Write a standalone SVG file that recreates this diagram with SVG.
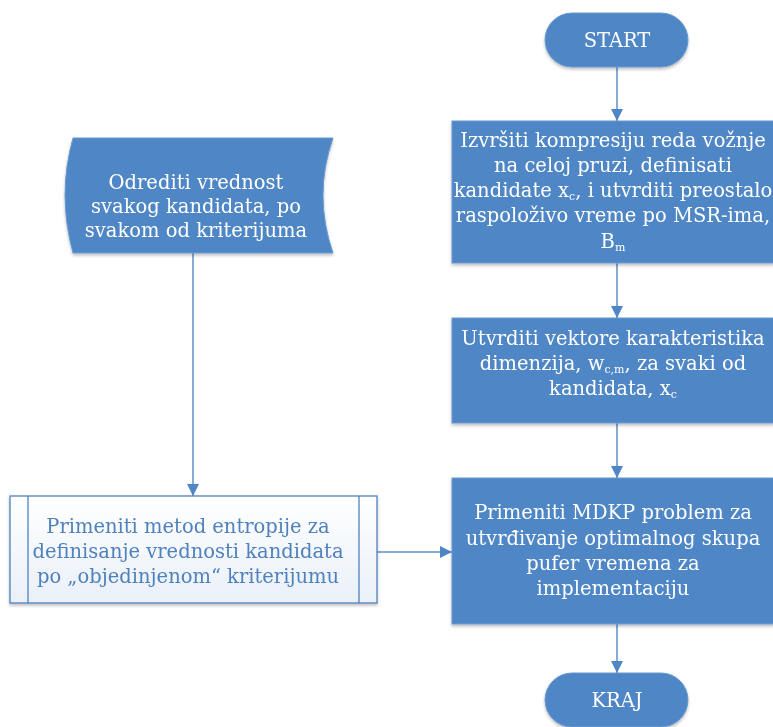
<svg xmlns="http://www.w3.org/2000/svg" width="773" height="727" viewBox="0 0 773 727">
<defs>
<style>
.blue{fill:#4f87c6;stroke:#6a9ad0;stroke-width:1}
.wt{font-family:"DejaVu Serif","Liberation Serif",serif;font-size:19.5px;fill:#ffffff;text-anchor:middle}
.bt{font-family:"DejaVu Serif","Liberation Serif",serif;font-size:19.5px;fill:#4f81bd;text-anchor:middle}
.conn{stroke:#5b8fc9;stroke-width:1.5;fill:none;marker-end:url(#ah)}
.sub{font-size:11px}
</style>
<marker id="ah" viewBox="0 0 10 10" refX="10" refY="5" markerWidth="12" markerHeight="12" markerUnits="userSpaceOnUse" orient="auto">
<path d="M0,0 L10,5 L0,10 Z" fill="#4f87c6"/>
</marker>
<linearGradient id="pg" x1="0" y1="0" x2="0" y2="1">
<stop offset="0" stop-color="#ffffff"/>
<stop offset="1" stop-color="#e9f0f8"/>
</linearGradient>
<filter id="sh" x="-10%" y="-10%" width="120%" height="130%">
<feDropShadow dx="0" dy="2" stdDeviation="1.5" flood-color="#000" flood-opacity="0.25"/>
</filter>
</defs>
<rect width="773" height="727" fill="#ffffff"/>
<g id="connectors">
<line class="conn" x1="617" y1="67" x2="617" y2="121"/>
<line class="conn" x1="617" y1="263" x2="617" y2="318"/>
<line class="conn" x1="617" y1="423" x2="617" y2="478"/>
<line class="conn" x1="617" y1="624" x2="617" y2="673"/>
<line class="conn" x1="193" y1="253" x2="193" y2="496"/>
<line class="conn" x1="377" y1="552" x2="452" y2="552"/>
</g>
<g id="start" filter="url(#sh)">
<rect class="blue" x="545" y="13" width="143" height="54" rx="27"/>
<text class="wt" x="617" y="47">START</text>
</g>
<g id="step1" filter="url(#sh)">
<rect class="blue" x="452" y="121" width="322" height="142"/>
<text class="wt" x="613" y="147">Izvršiti kompresiju reda vožnje</text>
<text class="wt" x="613" y="172">na celoj pruzi, definisati</text>
<text class="wt" x="613" y="197">kandidate x<tspan class="sub" dy="3">c</tspan><tspan dy="-3">, i utvrditi preostalo</tspan></text>
<text class="wt" x="613" y="222">raspoloživo vreme po MSR-ima,</text>
<text class="wt" x="613" y="248">B<tspan class="sub" dy="3">m</tspan></text>
</g>
<g id="step2" filter="url(#sh)">
<rect class="blue" x="452" y="318" width="322" height="105"/>
<text class="wt" x="613" y="345">Utvrditi vektore karakteristika</text>
<text class="wt" x="613" y="370">dimenzija, w<tspan class="sub" dy="3">c,m</tspan><tspan dy="-3">, za svaki od</tspan></text>
<text class="wt" x="613" y="395">kandidata, x<tspan class="sub" dy="3">c</tspan></text>
</g>
<g id="step3" filter="url(#sh)">
<rect class="blue" x="452" y="478" width="322" height="146"/>
<text class="wt" x="613" y="519">Primeniti MDKP problem za</text>
<text class="wt" x="613" y="545">utvrđivanje optimalnog skupa</text>
<text class="wt" x="613" y="570">pufer vremena za</text>
<text class="wt" x="613" y="595">implementaciju</text>
</g>
<g id="kraj" filter="url(#sh)">
<rect class="blue" x="545" y="673" width="143" height="54" rx="27"/>
<text class="wt" x="617" y="707">KRAJ</text>
</g>
<g id="data" filter="url(#sh)">
<path class="blue" d="M73,138 L333,138 Q313,195 333,253 L73,253 Q57,195 73,138 Z"/>
<text class="wt" x="196" y="189">Odrediti vrednost</text>
<text class="wt" x="196" y="213">svakog kandidata, po</text>
<text class="wt" x="196" y="237">svakom od kriterijuma</text>
</g>
<g id="entropy" filter="url(#sh)">
<rect x="10" y="496" width="367" height="107" fill="url(#pg)" stroke="#4f81bd" stroke-width="1.3"/>
<line x1="28" y1="496" x2="28" y2="603" stroke="#4f81bd" stroke-width="1.3"/>
<line x1="359" y1="496" x2="359" y2="603" stroke="#4f81bd" stroke-width="1.3"/>
<text class="bt" x="188" y="533">Primeniti metod entropije za</text>
<text class="bt" x="188" y="558">definisanje vrednosti kandidata</text>
<text class="bt" x="188" y="583">po „objedinjenom“ kriterijumu</text>
</g>
</svg>
